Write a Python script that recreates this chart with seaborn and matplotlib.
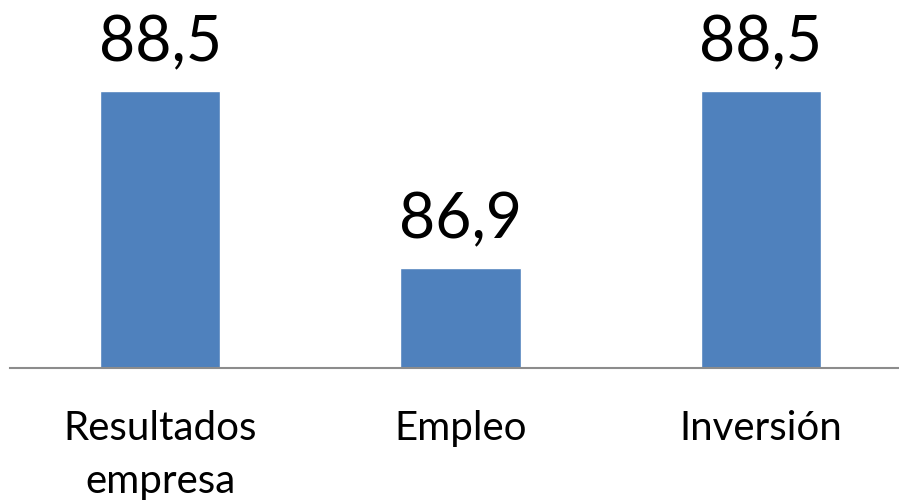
import matplotlib
matplotlib.use("Agg")
import matplotlib.pyplot as plt
import seaborn as sns
import pandas as pd

categories = ["Resultados\nempresa", "Empleo", "Inversión"]
values = [88.5, 86.9, 88.5]
value_labels = ["88,5", "86,9", "88,5"]

df = pd.DataFrame({"cat": categories, "val": values})

sns.set_theme(style="white")
plt.rcParams["font.family"] = ["Lato", "DejaVu Sans"]

fig = plt.figure(figsize=(8.99, 5.04), dpi=100)
ax = fig.add_axes([10/899, 1 - 368/504, 889/899, 368/504])

sns.barplot(data=df, x="cat", y="val", color="#4F81BD", width=0.40,
            saturation=1, ax=ax, bottom=0)
ax.set_ylim(86.0, 89.32)
ax.set_xlim(-0.5, 2.46)

for p, lab in zip(ax.patches, value_labels):
    ax.annotate(lab, (p.get_x() + p.get_width() / 2, p.get_y() + p.get_height()),
                xytext=(0, 13.5), textcoords="offset points",
                ha="center", va="bottom", fontsize=45, color="black")

ax.set_xlabel("")
ax.set_ylabel("")
ax.set_yticks([])
ax.tick_params(axis="x", length=0, labelsize=29, pad=30, colors="black")
for t in ax.get_xticklabels():
    t.set_linespacing(1.55)
    t.set_verticalalignment("top")
for s in ["top", "right", "left"]:
    ax.spines[s].set_visible(False)
ax.spines["bottom"].set_color("#8c8c8c")
ax.spines["bottom"].set_linewidth(1.5)
ax.patch.set_alpha(0)

fig.savefig("out.png", dpi=100)
